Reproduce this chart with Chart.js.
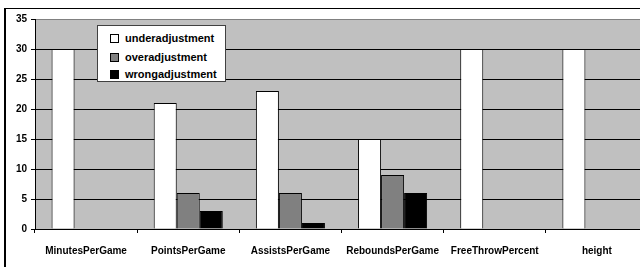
<!DOCTYPE html>
<html>
<head>
<meta charset="utf-8">
<script src="https://cdn.jsdelivr.net/npm/chart.js@4/dist/chart.umd.min.js"></script>
<style>
  html, body { margin: 0; padding: 0; width: 640px; height: 267px; overflow: hidden; background: #fff; }
  #frame { position: absolute; left: 4px; top: 8px; width: 700px; height: 300px; border-left: 2px solid #000; border-top: 1px solid #000; box-sizing: border-box; }
  #c { position: absolute; left: 0; top: 0; }
  #legend { position: absolute; left: 97px; top: 25px; width: 129px; height: 57px; box-sizing: border-box; border: 1px solid #404040; background: #fff; font: bold 11px "Liberation Sans", Arial, sans-serif; color: #000; }
  .item { position: absolute; left: 12px; height: 14px; line-height: 14px; white-space: nowrap; }
  .sw { display: inline-block; width: 7px; height: 7px; border: 1px solid #000; vertical-align: middle; margin-right: 6px; position: relative; top: -1px; }
</style>
</head>
<body>
<div id="frame"></div>
<canvas id="c" width="660" height="267"></canvas>
<div id="legend"></div>
<script>
const categories = ["MinutesPerGame", "PointsPerGame", "AssistsPerGame", "ReboundsPerGame", "FreeThrowPercent", "height"];
const seriesNames = ["underadjustment", "overadjustment", "wrongadjustment"];
const underadjustment = [30, 21, 23, 15, 30, 30];
const overadjustment = [null, 6, 6, 9, null, null];
const wrongadjustment = [null, 3, 1, 6, null, null];
const yTicks = [0, 5, 10, 15, 20, 25, 30, 35];
const colors = ["#FFFFFF", "#808080", "#000000"];

const legendEl = document.getElementById('legend');
seriesNames.forEach((n, i) => {
  const d = document.createElement('div');
  d.className = 'item';
  d.style.top = [5, 24, 41][i] + 'px';
  d.innerHTML = '<span class="sw" style="background:' + colors[i] + '"></span>' + n;
  legendEl.appendChild(d);
});

const plotBg = {
  id: 'plotBg',
  beforeDraw(chart) {
    const { ctx, chartArea: a } = chart;
    ctx.save();
    ctx.fillStyle = '#C0C0C0';
    ctx.fillRect(a.left, a.top, a.right - a.left, a.bottom - a.top);
    ctx.strokeStyle = '#808080';
    ctx.lineWidth = 1;
    ctx.strokeRect(a.left + 0.5, a.top + 0.5, a.right - a.left, a.bottom - a.top);
    ctx.restore();
  }
};

const font = { family: '"Liberation Sans", Arial, sans-serif', size: 10, weight: 'bold' };

new Chart(document.getElementById('c'), {
  type: 'bar',
  data: {
    labels: categories,
    datasets: [
      { label: seriesNames[0], data: underadjustment, backgroundColor: colors[0], borderColor: '#000', borderWidth: 1 },
      { label: seriesNames[1], data: overadjustment, backgroundColor: colors[1], borderColor: '#000', borderWidth: 1 },
      { label: seriesNames[2], data: wrongadjustment, backgroundColor: colors[2], borderColor: '#000', borderWidth: 1 }
    ]
  },
  options: {
    responsive: false,
    animation: false,
    layout: { padding: { left: 0, top: 19, right: 12, bottom: 0 } },
    datasets: { bar: { categoryPercentage: 0.676, barPercentage: 1.0 } },
    plugins: { legend: { display: false }, tooltip: { enabled: false } },
    scales: {
      x: {
        offset: true,
        grid: { drawOnChartArea: false, drawTicks: true, tickLength: 4, color: '#000', offset: true },
        border: { display: true, color: '#000', width: 1 },
        ticks: { font, color: '#000', padding: 12, maxRotation: 0, autoSkip: false },
        afterFit(s) { s.height = 38; }
      },
      y: {
        min: 0, max: 35,
        afterBuildTicks(s) { s.ticks = yTicks.map(v => ({ value: v })); },
        grid: { color: ctx => (ctx.tick && ctx.tick.value === 35) ? '#808080' : '#000', tickLength: 4, drawTicks: true, tickColor: '#000' },
        border: { display: true, color: '#000', width: 1 },
        ticks: { font, color: '#000', padding: 4 },
        afterFit(s) { s.width = 35; }
      }
    }
  },
  plugins: [plotBg]
});
</script>
</body>
</html>
